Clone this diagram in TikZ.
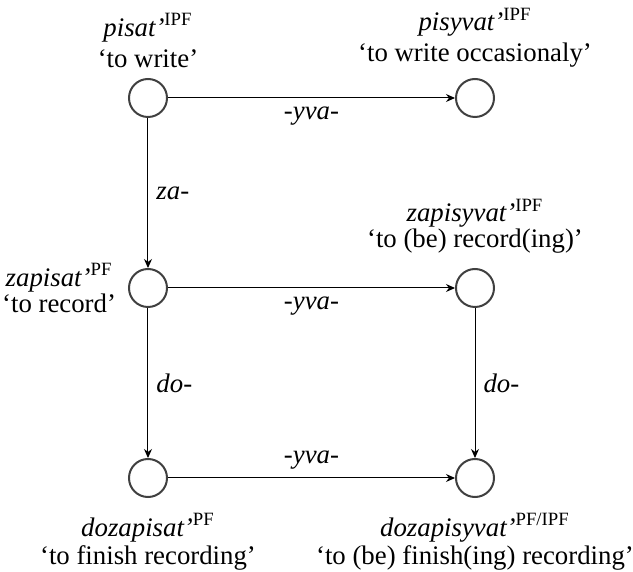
\documentclass[tikz,border=0pt]{standalone}
\usepackage{fontspec}
\setmainfont{Liberation Serif}
\usetikzlibrary{positioning,arrows.meta}

\begin{document}
\begin{tikzpicture}[node distance=95pt and 163.5pt,
        every node/.style={font=\fontsize{13.4}{13}\selectfont},
        verb/.style={circle, draw=black!75, line width=1pt, minimum size=19pt, inner sep=0pt, on grid},
        gloss/.style={align=center, inner sep=1pt},
        affix/.style={font=\fontsize{13.4}{13}\selectfont\itshape, inner sep=4pt},
        >={Stealth[length=4.5pt, width=4pt]}, line width=0.5pt]
        \useasboundingbox (-74pt,49pt) rectangle (242.5pt,-237pt);

        \node[verb] (pisat) {};
        \node[verb, right=of pisat] (pisyvat) {};
        \node[verb, below=of pisat] (zapisat) {};
        \node[verb, right=of zapisat] (zapisyvat) {};
        \node[verb, below=of zapisat] (dozapisat) {};
        \node[verb, right=of dozapisat] (dozapisyvat) {};

        \node[gloss, above=4pt of pisat] (pisat-gl) {\textit{pisat’}\textsuperscript{IPF}\\[2.5pt] ‘to write’};
        \node[gloss, above=4pt of pisyvat] (pisyvat-gl) {\textit{pisyvat’}\textsuperscript{IPF}\\[2.5pt] ‘to write occasionaly’};
        \node[gloss, left=4.75pt of zapisat] (zapisat-gl) {\textit{zapisat’}\textsuperscript{PF}\\ ‘to record’};
        \node[gloss, above=6pt of zapisyvat] (zapisyvat-gl) {\textit{zapisyvat’}\textsuperscript{IPF}\\ ‘to (be) record(ing)’};
        \node[gloss, below=6.5pt of dozapisat] (dozapisat-gl) {\textit{dozapisat’}\textsuperscript{PF}\\[1pt] ‘to finish recording’};
        \node[gloss, below=6.5pt of dozapisyvat] (dozapisyvat-gl) {\textit{dozapisyvat’}\textsuperscript{PF/IPF}\\[1pt] ‘to (be) finish(ing) recording’};

        \draw[->] (pisat) -- node[affix, below] (yva-top) {-yva-} (pisyvat);
        \draw[->] (pisat) -- node[affix, right] (za) {za-} (zapisat);
        \draw[->] (zapisat) -- node[affix, below] (yva-mid) {-yva-} (zapisyvat);
        \draw[->] (zapisat) -- node[affix, right] (do-left) {do-} (dozapisat);
        \draw[->] (zapisyvat) -- node[affix, right] (do-right) {do-} (dozapisyvat);
        \draw[->] (dozapisat) -- node[affix, above] (yva-bot) {-yva-} (dozapisyvat);
    \end{tikzpicture}
\end{document}
